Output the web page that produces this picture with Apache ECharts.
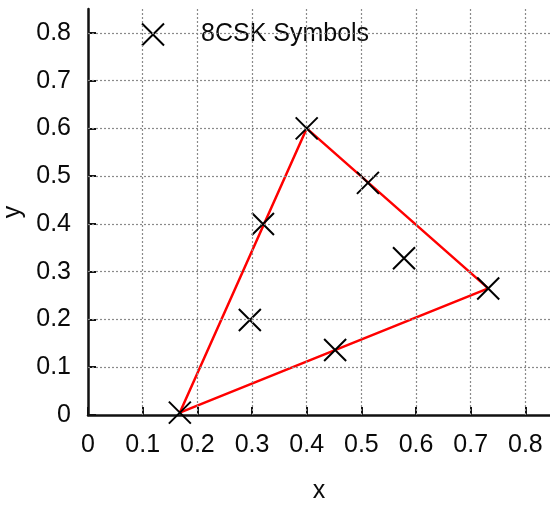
<!DOCTYPE html>
<html><head><meta charset="utf-8">
<script src="https://cdn.jsdelivr.net/npm/echarts@6/dist/echarts.min.js"></script>
<style>html,body{margin:0;padding:0;background:#fff}#c{width:550px;height:506px}</style>
</head><body><div id="c"></div>
<script>
const xTicks = [0, 0.1, 0.2, 0.3, 0.4, 0.5, 0.6, 0.7, 0.8];
const yTicks = [0, 0.1, 0.2, 0.3, 0.4, 0.5, 0.6, 0.7, 0.8];
const gridX = [0.1, 0.2, 0.3, 0.4, 0.5, 0.6, 0.7, 0.8];
const gridY = [0.1, 0.2, 0.3, 0.4, 0.5, 0.6, 0.7, 0.8];
const symbolX = [0.168, 0.296, 0.320, 0.400, 0.512, 0.578, 0.732, 0.452];
const symbolY = [0.005, 0.199, 0.400, 0.600, 0.486, 0.328, 0.265, 0.136];
const triX = [0.168, 0.400, 0.732, 0.168];
const triY = [0.005, 0.600, 0.265, 0.005];
const seriesName = '8CSK Symbols';

const FONT = 'Liberation Sans, Arial, sans-serif';
const crossPath = 'path://M0,0L10,10M10,0L0,10';
const chart = echarts.init(document.getElementById('c'), null, {renderer: 'canvas'});

const fmt = v => (v === 0 ? '0' : (+v.toFixed(2)).toString());

chart.setOption({
  animation: false,
  backgroundColor: '#fff',
  grid: {left: 88, right: 0, top: 9, bottom: 91, containLabel: false, outerBoundsMode: 'none'},
  legend: {
    data: [seriesName],
    left: 102, top: 20,
    padding: [2, 14, 3, 39],
    backgroundColor: '#fff',
    itemWidth: 22, itemHeight: 22,
    icon: crossPath,
    itemStyle: {color: 'transparent', borderColor: '#000', borderWidth: 2},
    textStyle: {fontFamily: FONT, fontSize: 25, color: '#0a0a0a', padding: [0, 0, 0, 32]}
  },
  xAxis: {
    type: 'value', min: 0, max: 0.845, interval: 0.1,
    name: 'x', nameLocation: 'middle', nameGap: 64,
    nameTextStyle: {fontFamily: FONT, fontSize: 25, color: '#0a0a0a'},
    axisLine: {show: true, onZero: false, lineStyle: {color: '#111', width: 2.5}},
    axisTick: {show: true, inside: true, length: 8, customValues: xTicks, lineStyle: {color: '#111', width: 2}},
    axisLabel: {customValues: xTicks, formatter: fmt, fontFamily: FONT, fontSize: 25, color: '#0a0a0a', margin: 18},
    splitLine: {show: false}
  },
  yAxis: {
    type: 'value', min: 0, max: 0.85, interval: 0.1,
    name: 'y', nameLocation: 'middle', nameGap: 60, nameRotate: 90,
    nameTextStyle: {fontFamily: FONT, fontSize: 25, color: '#0a0a0a'},
    axisLine: {show: true, onZero: false, lineStyle: {color: '#111', width: 2.5}},
    axisTick: {show: true, inside: true, length: 8, customValues: yTicks, lineStyle: {color: '#111', width: 2}},
    axisLabel: {customValues: yTicks, formatter: fmt, fontFamily: FONT, fontSize: 25, color: '#0a0a0a', margin: 17},
    splitLine: {show: false}
  },
  series: [
    {
      name: 'grid', type: 'line', data: [], z: 1, silent: true,
      markLine: {
        silent: true, symbol: ['none', 'none'], animation: false,
        label: {show: false},
        lineStyle: {color: '#8a8a8a', width: 1.2, type: [2, 2]},
        data: gridX.map(v => ({xAxis: v})).concat(gridY.map(v => ({yAxis: v})))
      }
    },
    {
      name: 'triangle', type: 'line', z: 2,
      data: triX.map((x, i) => [x, triY[i]]),
      showSymbol: false, symbol: 'none',
      lineStyle: {color: '#ff0000', width: 2.5}
    },
    {
      name: seriesName, type: 'scatter', z: 3,
      data: symbolX.map((x, i) => [x, symbolY[i]]),
      symbol: crossPath, symbolSize: 22,
      itemStyle: {color: 'transparent', borderColor: '#000', borderWidth: 2, opacity: 1}
    }
  ]
});
</script></body></html>
